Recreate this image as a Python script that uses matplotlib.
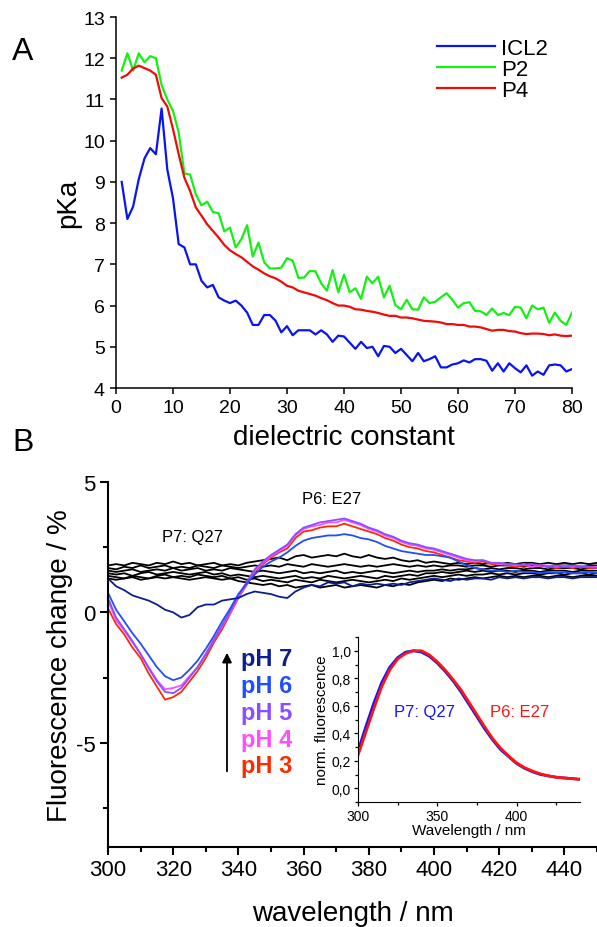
import numpy as np
import matplotlib
matplotlib.use("Agg")
from matplotlib import pyplot as plt
from matplotlib.ticker import MultipleLocator, FuncFormatter

plt.rcParams['font.family'] = ['Liberation Sans', 'DejaVu Sans']
plt.rcParams['axes.unicode_minus'] = False

# ---------------- panel A data ----------------
eps = list(range(1, 81))
icl2 = [9.0, 8.1, 8.4, 9.07, 9.57, 9.82, 9.67, 10.78, 9.3, 8.6,
        7.49, 7.41, 7.0, 7.0, 6.6, 6.44, 6.5, 6.2, 6.12, 6.06,
        6.12, 6.0, 5.83, 5.53, 5.53, 5.77, 5.77, 5.63, 5.35, 5.5,
        5.28, 5.4, 5.4, 5.4, 5.3, 5.4, 5.3, 5.12, 5.27, 5.25,
        5.1, 4.95, 5.12, 4.97, 5.0, 4.77, 5.02, 5.0, 4.85, 4.95,
        4.8, 4.65, 4.85, 4.65, 4.7, 4.77, 4.5, 4.5, 4.57, 4.6,
        4.67, 4.62, 4.7, 4.7, 4.66, 4.42, 4.6, 4.4, 4.6, 4.48,
        4.38, 4.55, 4.3, 4.4, 4.32, 4.55, 4.57, 4.55, 4.4, 4.46]
p2 = [11.7, 12.12, 11.7, 12.12, 11.9, 12.05, 12.0, 11.35, 11.0, 10.72,
      10.2, 9.2, 9.18, 8.7, 8.43, 8.52, 8.27, 8.24, 7.8, 7.89,
      7.41, 7.61, 7.95, 7.19, 7.53, 7.05, 6.9, 6.9, 6.92, 7.15,
      7.09, 6.67, 6.68, 6.84, 6.83, 6.54, 6.36, 6.86, 6.32, 6.75,
      6.32, 6.42, 6.16, 6.7, 6.54, 6.7, 6.2, 6.48, 6.01, 5.91,
      6.14, 5.91, 5.9, 6.2, 6.06, 6.09, 6.2, 6.3, 6.14, 5.95,
      6.06, 6.08, 5.87, 5.86, 5.77, 5.93, 5.77, 5.82, 5.77, 5.97,
      5.95, 5.69, 6.0, 5.91, 5.95, 5.58, 5.83, 5.63, 5.53, 5.83]
p4 = [11.53, 11.6, 11.75, 11.82, 11.76, 11.7, 11.6, 11.03, 10.83, 10.28,
      9.67, 9.1, 8.78, 8.38, 8.18, 7.97, 7.81, 7.65, 7.47, 7.34,
      7.25, 7.17, 7.06, 6.95, 6.87, 6.78, 6.71, 6.66, 6.58, 6.48,
      6.44, 6.36, 6.32, 6.28, 6.24, 6.18, 6.13, 6.06, 6.0, 6.0,
      5.97, 5.91, 5.9, 5.87, 5.85, 5.82, 5.78, 5.75, 5.75, 5.71,
      5.71, 5.69, 5.66, 5.63, 5.62, 5.61, 5.59, 5.55, 5.55, 5.53,
      5.53, 5.49, 5.49, 5.47, 5.43, 5.39, 5.41, 5.41, 5.38, 5.37,
      5.33, 5.31, 5.32, 5.32, 5.31, 5.28, 5.3, 5.27, 5.26, 5.27]

# ---------------- panel B data ----------------
wl = np.arange(300, 450.1, 2.5)
ph_labels = ["pH 7", "pH 6", "pH 5", "pH 4", "pH 3"]
ph_colors = ["#0c1f8c", "#1f4dff", "#8a4dff", "#ff4dff", "#ff2a00"]
ph7 = [1.3, 1.0, 0.85, 0.65, 0.55, 0.45, 0.3, 0.1, 0.0, -0.2,
       -0.1, 0.2, 0.3, 0.3, 0.45, 0.5, 0.55, 0.7, 0.8, 0.75,
       0.7, 0.6, 0.55, 0.8, 0.95, 1.05, 1.0, 1.15, 1.1, 1.15,
       1.0, 1.1, 1.05, 1.1, 1.05, 1.1, 1.05, 1.15, 1.2, 1.25,
       1.3, 1.25, 1.2, 1.3, 1.25, 1.3, 1.3, 1.25, 1.35,
       1.3, 1.35, 1.3, 1.35, 1.35, 1.3, 1.35, 1.35, 1.3, 1.35, 1.35, 1.35]
ph6 = [0.75, 0.1, -0.35, -0.8, -1.2, -1.65, -2.1, -2.45, -2.6, -2.5,
       -2.2, -1.85, -1.4, -0.9, -0.35, 0.15, 0.7, 1.1, 1.45, 1.75,
       1.95, 2.1, 2.3, 2.55, 2.75, 2.85, 2.9, 2.95, 2.95, 3.0,
       2.95, 2.85, 2.8, 2.7, 2.55, 2.45, 2.35, 2.3, 2.25, 2.2,
       2.2, 2.15, 2.1, 1.95, 1.8, 1.7, 1.65, 1.6, 1.6, 1.55,
       1.6, 1.55, 1.55, 1.5, 1.55, 1.5, 1.55, 1.5, 1.5, 1.55, 1.5]
ph5 = [0.55, -0.2, -0.65, -1.1, -1.6, -2.15, -2.65, -3.05, -3.1, -2.9,
       -2.5, -2.1, -1.6, -1.05, -0.5, 0.05, 0.65, 1.15, 1.65, 1.95,
       2.2, 2.4, 2.6, 3.0, 3.25, 3.35, 3.45, 3.5, 3.55, 3.6,
       3.5, 3.4, 3.25, 3.15, 3.0, 2.9, 2.75, 2.65, 2.6, 2.5,
       2.45, 2.35, 2.25, 2.15, 2.05, 2.0, 2.0, 1.9, 1.9, 1.85,
       1.85, 1.8, 1.85, 1.8, 1.75, 1.8, 1.75, 1.8, 1.75, 1.75, 1.7]
ph4 = [0.45, -0.3, -0.7, -1.15, -1.6, -2.1, -2.6, -2.95, -2.9, -2.8,
       -2.45, -2.1, -1.6, -1.05, -0.55, 0.0, 0.6, 1.1, 1.6, 1.9,
       2.15, 2.35, 2.55, 2.95, 3.2, 3.3, 3.35, 3.45, 3.45, 3.55,
       3.45, 3.35, 3.2, 3.1, 2.95, 2.85, 2.7, 2.6, 2.55, 2.45,
       2.4, 2.3, 2.2, 2.1, 2.0, 1.95, 2.0, 1.9, 1.85, 1.85,
       1.8, 1.85, 1.75, 1.8, 1.8, 1.75, 1.8, 1.75, 1.8, 1.75, 1.75]
ph3 = [0.15, -0.45, -0.85, -1.35, -1.75, -2.35, -2.85, -3.35, -3.25, -3.05,
       -2.65, -2.25, -1.75, -1.15, -0.65, -0.05, 0.55, 1.05, 1.55, 1.85,
       2.1, 2.3, 2.45, 2.85, 3.1, 3.15, 3.25, 3.3, 3.3, 3.4,
       3.3, 3.2, 3.1, 3.0, 2.85, 2.75, 2.6, 2.5, 2.45, 2.35,
       2.3, 2.2, 2.1, 2.0, 1.95, 1.9, 1.95, 1.85, 1.85, 1.8,
       1.75, 1.8, 1.75, 1.8, 1.75, 1.7, 1.75, 1.7, 1.75, 1.7, 1.7]
ph_traces = [ph7, ph6, ph5, ph4, ph3]

# P7: Q27 traces (black)
k1 = [1.8, 1.85, 1.8, 1.9, 1.85, 1.8, 1.9, 1.85, 1.95, 1.85, 1.9, 1.8, 1.85, 1.9, 1.8, 1.85, 1.8, 1.9, 1.95, 2.0,
      2.05, 2.1, 2.0, 2.15, 2.2, 2.1, 2.15, 2.2, 2.15, 2.25, 2.15, 2.1, 2.2, 2.1, 2.05, 2.1, 2.0, 1.95, 2.0, 1.9,
      1.95, 1.9, 1.85, 1.9, 1.85, 1.9, 1.85, 1.9, 1.85, 1.9, 1.85, 1.9, 1.9, 1.85, 1.9, 1.85, 1.9, 1.85, 1.9, 1.85, 1.9]
k2 = [1.7, 1.65, 1.75, 1.7, 1.8, 1.7, 1.75, 1.8, 1.7, 1.75, 1.7, 1.8, 1.75, 1.7, 1.8, 1.75, 1.7, 1.75, 1.8, 1.75,
      1.8, 1.75, 1.85, 1.8, 1.75, 1.85, 1.8, 1.75, 1.8, 1.85, 1.8, 1.75, 1.8, 1.75, 1.8, 1.85, 1.8, 1.75, 1.8, 1.75,
      1.8, 1.75, 1.8, 1.8, 1.75, 1.8, 1.8, 1.75, 1.8, 1.8, 1.8, 1.75, 1.8, 1.8, 1.75, 1.8, 1.8, 1.8, 1.75, 1.8, 1.8]
k3 = [1.6, 1.55, 1.6, 1.65, 1.55, 1.6, 1.65, 1.6, 1.7, 1.6, 1.65, 1.7, 1.6, 1.65, 1.6, 1.7, 1.65, 1.6, 1.55, 1.6,
      1.55, 1.5, 1.55, 1.6, 1.5, 1.55, 1.5, 1.55, 1.6, 1.5, 1.55, 1.5, 1.55, 1.6, 1.55, 1.5, 1.55, 1.6, 1.55, 1.6,
      1.6, 1.65, 1.6, 1.65, 1.65, 1.7, 1.65, 1.7, 1.65, 1.7, 1.7, 1.65, 1.7, 1.7, 1.65, 1.7, 1.7, 1.7, 1.65, 1.7, 1.7]
k4 = [1.5, 1.45, 1.5, 1.4, 1.5, 1.55, 1.45, 1.5, 1.55, 1.5, 1.45, 1.5, 1.55, 1.45, 1.5, 1.4, 1.45, 1.4, 1.35, 1.4,
      1.35, 1.3, 1.35, 1.4, 1.3, 1.35, 1.3, 1.4, 1.35, 1.3, 1.35, 1.4, 1.35, 1.3, 1.4, 1.35, 1.4, 1.45, 1.4, 1.5,
      1.5, 1.55, 1.5, 1.55, 1.6, 1.55, 1.6, 1.55, 1.6, 1.6, 1.55, 1.6, 1.6, 1.55, 1.6, 1.6, 1.6, 1.55, 1.6, 1.6, 1.6]
k5 = [1.4, 1.35, 1.3, 1.4, 1.35, 1.3, 1.4, 1.45, 1.35, 1.4, 1.35, 1.45, 1.4, 1.35, 1.4, 1.3, 1.35, 1.25, 1.3, 1.2,
      1.25, 1.2, 1.15, 1.25, 1.2, 1.15, 1.25, 1.2, 1.15, 1.2, 1.25, 1.2, 1.15, 1.2, 1.25, 1.2, 1.3, 1.25, 1.3, 1.35,
      1.4, 1.35, 1.4, 1.45, 1.4, 1.45, 1.45, 1.5, 1.45, 1.5, 1.45, 1.5, 1.5, 1.45, 1.5, 1.5, 1.45, 1.5, 1.5, 1.45, 1.5]
k6 = [1.3, 1.25, 1.3, 1.35, 1.25, 1.3, 1.35, 1.3, 1.35, 1.3, 1.25, 1.3, 1.35, 1.3, 1.25, 1.3, 1.2, 1.15, 1.1, 1.05,
      1.1, 1.0, 1.05, 0.95, 1.0, 1.05, 0.95, 1.0, 1.05, 0.95, 1.0, 1.05, 1.0, 0.95, 1.05, 1.0, 1.1, 1.05, 1.15, 1.2,
      1.25, 1.2, 1.3, 1.25, 1.3, 1.35, 1.3, 1.35, 1.4, 1.35, 1.4, 1.35, 1.4, 1.4, 1.35, 1.4, 1.4, 1.35, 1.4, 1.4, 1.4]
black_traces = [k1, k2, k3, k4, k5, k6]

# inset: normalised emission spectra
wl_in = list(range(300, 441, 5))
norm_q27 = [0.27, 0.45, 0.62, 0.77, 0.88, 0.95, 0.99, 1.0, 0.99, 0.96, 0.91, 0.85, 0.78, 0.70, 0.61,
            0.52, 0.43, 0.35, 0.28, 0.23, 0.18, 0.145, 0.12, 0.10, 0.09, 0.08, 0.075, 0.07, 0.065]
norm_e27 = [0.24, 0.41, 0.58, 0.74, 0.86, 0.94, 0.98, 1.0, 1.0, 0.97, 0.92, 0.86, 0.79, 0.715, 0.625,
            0.535, 0.445, 0.36, 0.29, 0.235, 0.185, 0.15, 0.125, 0.105, 0.09, 0.08, 0.075, 0.07, 0.065]

W, H = 597, 928
fig = plt.figure(figsize=(W / 100, H / 100), dpi=100)

def box(l, t, r, b):
    return [l / W, 1 - b / H, (r - l) / W, (b - t) / H]

# ---------------- panel A ----------------
axA = fig.add_axes(box(116, 18, 572, 389))
axA.plot(eps, icl2, color="#0a14f0", lw=1.6, label="ICL2")
axA.plot(eps, p2, color="#14f014", lw=1.6, label="P2")
axA.plot(eps, p4, color="#f00a0a", lw=1.6, label="P4")
axA.set_xlim(0, 80)
axA.set_ylim(4, 13)
axA.xaxis.set_major_locator(MultipleLocator(10))
axA.yaxis.set_major_locator(MultipleLocator(1))
for s in ["top", "right"]:
    axA.spines[s].set_visible(False)
for s in ["left", "bottom"]:
    axA.spines[s].set_linewidth(1.1)
axA.tick_params(direction="out", length=4, width=1.1, labelsize=14, pad=4)
axA.set_xlabel("dielectric constant", fontsize=20, va="center")
axA.xaxis.set_label_coords(0.5, -(438 - 389) / 371)
axA.set_ylabel("pKa", fontsize=20, va="center")
axA.yaxis.set_label_coords((68 - 116) / 456, 0.5)
axA.legend(loc="upper left", bbox_to_anchor=((428 - 116) / 456, 1 - (30 - 18) / 371),
           frameon=False, fontsize=16, handlelength=2.6, handletextpad=0.3,
           labelspacing=0.0, borderaxespad=0)

fig.text(23 / W, 1 - 52 / H, "A", fontsize=23, ha="center", va="center")
fig.text(23 / W, 1 - 443 / H, "B", fontsize=23, ha="center", va="center")

# ---------------- panel B ----------------
axB = fig.add_axes(box(108, 483, 597, 848))
for k in black_traces:
    axB.plot(wl, k, color="black", lw=1.3)
for vals, c in zip(ph_traces[::-1], ph_colors[::-1]):
    axB.plot(wl, vals, color=c, lw=1.3)
axB.set_xlim(300, 450)
axB.set_ylim(-9, 5)
axB.xaxis.set_major_locator(MultipleLocator(20))
axB.xaxis.set_minor_locator(MultipleLocator(10))
axB.yaxis.set_major_locator(MultipleLocator(5))
axB.yaxis.set_minor_locator(MultipleLocator(2.5))
for s in ["top", "right"]:
    axB.spines[s].set_visible(False)
for s in ["left", "bottom"]:
    axB.spines[s].set_linewidth(1.5)
axB.tick_params(which="major", direction="out", length=6, width=1.5, labelsize=16, pad=3)
axB.tick_params(which="minor", direction="out", length=3.5, width=1.5)
axB.set_xlabel("wavelength / nm", fontsize=20, va="center")
axB.xaxis.set_label_coords(0.5, -(914 - 848) / 365)
axB.set_ylabel("Fluorescence change / %", fontsize=20, va="center")
axB.yaxis.set_label_coords((60 - 108) / 489, 0.5)

axB.text(325.8, 2.92, "P7: Q27", fontsize=12, ha="center", va="center")
axB.text(368.5, 4.38, "P6: E27", fontsize=12, ha="center", va="center")

ph_y = [-1.77, -2.81, -3.85, -4.88, -5.88]
for lab, c, y in zip(ph_labels, ph_colors, ph_y):
    axB.text(348.8, y, lab, color=c, fontsize=17, fontweight="bold",
             family=["Liberation Sans Narrow", "Liberation Sans"],
             ha="center", va="center")
axB.annotate("", xy=(336.5, -1.55), xytext=(336.5, -6.1),
             arrowprops=dict(arrowstyle="-|>", color="black", lw=1.3,
                             mutation_scale=14, shrinkA=0, shrinkB=0))

# ---------------- inset ----------------
axI = fig.add_axes(box(358, 638, 580, 803))
axI.plot(wl_in, norm_q27, color="#1414ff", lw=2.0)
axI.plot(wl_in, norm_e27, color="#ff1414", lw=2.0)
axI.set_xlim(300, 440)
axI.set_ylim(-0.1, 1.1)
axI.xaxis.set_major_locator(MultipleLocator(50))
axI.xaxis.set_minor_locator(MultipleLocator(25))
axI.yaxis.set_major_locator(MultipleLocator(0.2))
axI.yaxis.set_minor_locator(MultipleLocator(0.1))
axI.yaxis.set_major_formatter(FuncFormatter(lambda v, p: ("%.1f" % v).replace(".", ",")))
for s in ["top", "right"]:
    axI.spines[s].set_visible(False)
axI.tick_params(which="major", direction="out", length=3, width=0.9, labelsize=10, pad=2)
axI.tick_params(which="minor", direction="out", length=2, width=0.9)
axI.set_xlabel("Wavelength / nm", fontsize=11, labelpad=0)
axI.set_ylabel("norm. fluorescence", fontsize=11, labelpad=2)
axI.text(342.2, 0.56, "P7: Q27", color="#1414ff", fontsize=12, ha="center", va="center")
axI.text(402.1, 0.56, "P6: E27", color="#ff1414", fontsize=12, ha="center", va="center")

fig.savefig("out.png", dpi=100)
